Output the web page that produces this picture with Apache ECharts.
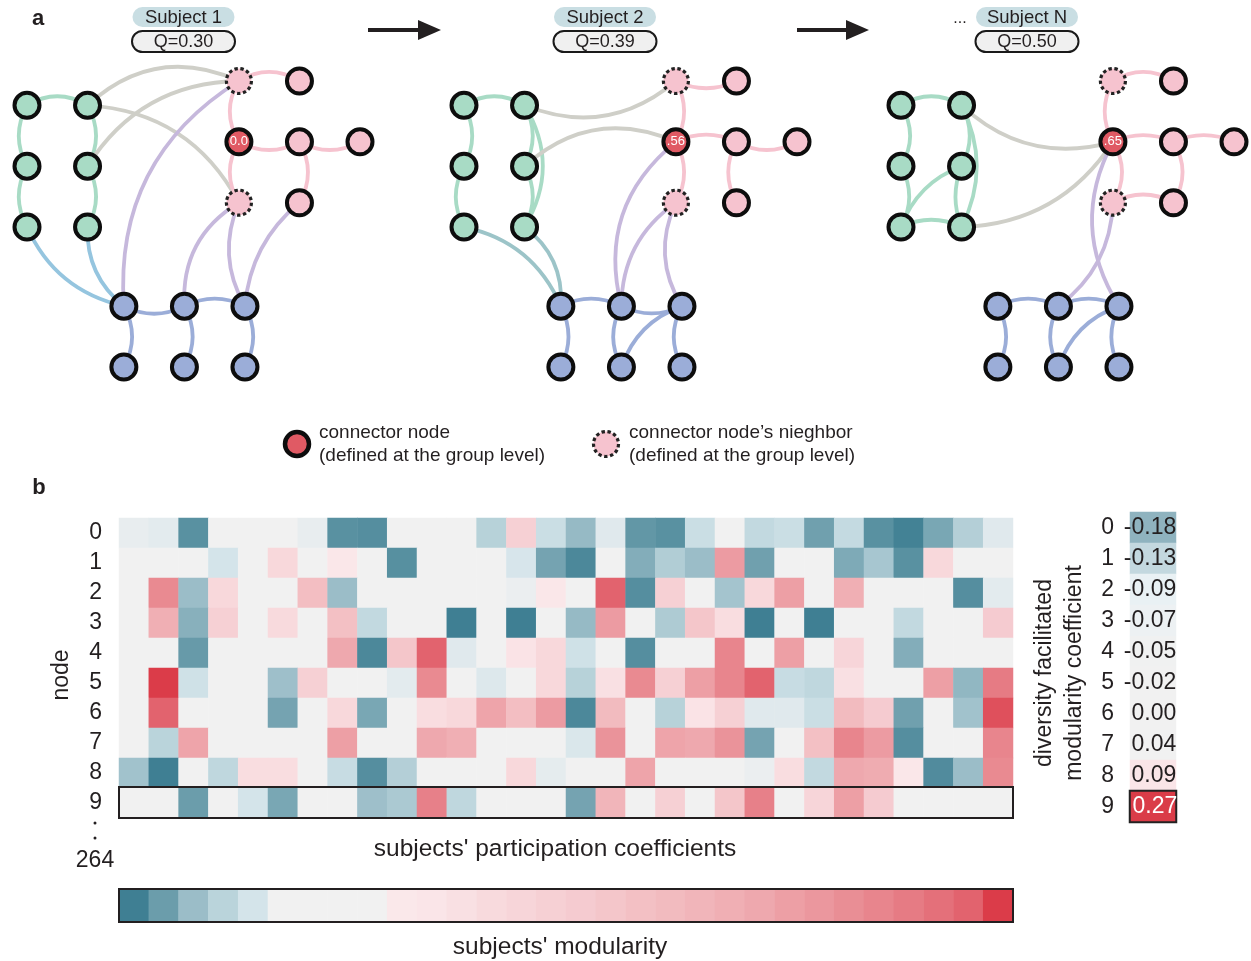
<!DOCTYPE html>
<html><head><meta charset="utf-8">
<script src="https://cdn.jsdelivr.net/npm/echarts@6/dist/echarts.min.js"></script>
<style>html,body{margin:0;padding:0;background:#fff}#c{width:1251px;height:961px}</style>
</head><body><div id="c"></div>
<script>
// ================= DATA =================
const subjects = ['Subject 1', 'Subject 2', 'Subject N'];
const modularityQ = [0.30, 0.39, 0.50];
const connectorLabels = ['0.0', '.56', '.65'];

const nodeIds = ['g0','g1','g2','g3','g4','g5','p0','p1','p2','p3','p4','p5','p6','b0','b1','b2','b3','b4','b5'];
const nodeCommunity = ['green','green','green','green','green','green',
  'pink','pink','pink','pink','pink','pink','pink',
  'blue','blue','blue','blue','blue','blue'];
const connectorNode = 'p2';
const neighborNodes = ['p0', 'p5'];

// edges per subject
const edgesS1 = [['g0','g1'],['g0','g2'],['g2','g4'],['g1','g3'],['g3','g5'],
  ['g1','p0'],['g3','p0'],['g1','p5'],
  ['g4','b0'],['g5','b0'],
  ['b0','p0'],['b1','p5'],['b2','p5'],['b2','p6'],
  ['p0','p1'],['p0','p2'],['p2','p5'],['p2','p3'],['p3','p4'],['p3','p6'],
  ['b0','b1'],['b1','b2'],['b0','b3'],['b1','b4'],['b2','b5']];
const edgesS2 = [['g0','g1'],['g0','g2'],['g2','g4'],['g1','g3'],['g3','g5'],['g1','g5'],
  ['g1','p0'],['g3','p2'],
  ['g4','b0'],['g5','b0'],
  ['b1','p2'],['b1','p5'],['b2','p5'],
  ['p0','p1'],['p0','p2'],['p2','p5'],['p2','p3'],['p3','p4'],['p3','p6'],
  ['b0','b1'],['b1','b2'],['b0','b3'],['b1','b4'],['b2','b5'],['b4','b2']];
const edgesSN = [['g0','g1'],['g0','g2'],['g2','g4'],['g1','g3'],['g3','g5'],['g1','g5'],['g4','g5'],['g4','g3'],
  ['g1','p2'],['g5','p2'],
  ['p2','b2'],['p5','b1'],
  ['p0','p1'],['p0','p2'],['p2','p3'],['p3','p4'],['p2','p5'],['p5','p6'],['p3','p6'],
  ['b0','b1'],['b1','b2'],['b0','b3'],['b1','b4'],['b2','b5'],['b4','b2']];

// heatmap: subjects' participation coefficients (colour level 0..29 on the modularity scale)
const nodeLabels = ['0','1','2','3','4','5','6','7','8','9'];
const pcRow0 = [4.7,4.5,0.6,6.5,6.5,6.5,4.7,0.6,0.5,6.5,6.5,6.5,2.9,14,3.6,1.9,4.4,0.8,0.6,3.6,6.5,3.3,3.6,1.1,3.4,0.6,0.1,1.3,2.8,4.4];
const pcRow1 = [6.5,6.5,6.5,4.0,6.5,12.5,6.5,9.3,6.5,0.55,6.5,6.5,6.5,4.1,1.2,0.3,6.5,1.5,2.7,2.0,22.5,1.1,6.5,6.5,1.4,2.4,0.6,12.5,6.5,6.5];
const pcRow2 = [6.5,24.5,2.0,12.5,6.5,6.5,17.5,2.0,6.5,6.5,6.5,6.5,6.5,4.8,9.3,6.5,28,0.5,14,6.5,2.3,12.5,22,6.5,20,6.5,6.5,6.5,0.5,4.5];
const pcRow3 = [6.5,20,1.6,14,6.5,12,6.5,17,3.3,6.5,6.5,0,6.5,0,6.5,1.9,22.5,6.5,2.6,16,11.5,0,6.5,0,6.5,6.5,3.3,6.5,6.5,15];
const pcRow4 = [6.5,6.5,0.9,6.5,6.5,6.5,6.5,21,0.3,16,28,4.4,6.5,10.5,12.5,3.8,6.5,0.5,6.5,6.5,25,6.5,22,6.5,13,6.5,1.5,6.5,6.5,6.5];
const pcRow5 = [6.5,29,3.8,6.5,6.5,2.1,14,6.5,6.5,4.5,24.5,6.5,4.3,6.5,12.5,2.9,11,24.5,14,22,25,28,3.5,3.2,11,6.5,6.5,22,1.8,26];
const pcRow6 = [6.5,28,6.5,6.5,6.5,1.2,6.5,12.5,1.3,6.5,11.5,12.5,21.5,17.5,22.5,0.3,18,6.5,2.9,10.5,14,4.4,4.4,3.6,18,15,1.1,6.5,2.2,28.5];
const pcRow7 = [6.5,3.0,21.5,6.5,6.5,6.5,6.5,22,6.5,6.5,21,20,6.5,6.5,6.5,4.2,23.5,6.5,21.5,21,23.5,1.2,6.5,17,25,22.5,0.5,6.5,6.5,25];
const pcRow8 = [2.2,0,6.5,3.2,11.5,11.5,6.5,3.5,0.5,2.8,6.5,6.5,6.5,12.5,4.6,6.5,6.5,21.5,6.5,6.5,6.5,4.8,11.5,3.3,21,20.5,9.3,0.4,2.0,24.5];
const pcRow9 = [6.5,6.5,1.0,6.5,4.0,1.3,6.5,6.5,2.1,2.5,25.5,3.2,6.5,6.5,6.5,1.2,19,6.5,14,6.5,16,25.5,6.5,13,22,15,6.5,6.5,6.5,6.5];
const pcRows = [pcRow0,pcRow1,pcRow2,pcRow3,pcRow4,pcRow5,pcRow6,pcRow7,pcRow8,pcRow9];

// diversity facilitated modularity coefficient per node
const dfmc = [-0.18,-0.13,-0.09,-0.07,-0.05,-0.02,0.00,0.04,0.09,0.27];
// modularity colour bar levels
const modularityLevels = [0,1,2,3,4,5,6,7,8,9,10,11,12,13,14,15,16,17,18,19,20,21,22,23,24,25,26,27,28,29];
const highlightedNode = 9;

// ================= STYLE / LAYOUT =================
const FONT = "'Liberation Sans', Arial, Helvetica, sans-serif";
const TXT = '#231f20';
const scaleColors = ['#3f7f93','#6b9dab','#9bbdc8','#bad4db','#d4e4ea','#f1f1f1','#f1f1f1','#f1f1f1','#f1f1f1',
  '#fae8ea','#fae5e8','#f9e0e3','#f8dadd','#f7d5d9','#f6d0d4','#f5cbd0','#f4c6ca','#f3c0c4','#f2bbbf','#f1b5ba',
  '#f0afb4','#eea8ae','#ed9fa5','#eb979e','#e98e95','#e8858d','#e67b84','#e4707a','#e2636e','#db3c49'];
const sideColors = ['#5e93a2','#78a5b2','#8fb3bf','#bed5dc','#e9f1f4','#f1f1f1','#f1f1f1','#f1f1f1',
  '#fae5e8','#f6cdd2','#f1b5ba','#e98e95','#da3c48'];
const commColor = {green:'#a8dbc5', pink:'#f6c3cf', blue:'#9badd8'};
const connectorColor = '#e05a64';
// node layout in abstract grid units
const nodeX = [0,1,0,1,0,1, 3.5,4.5,3.5,4.5,5.5,3.5,4.5, 1.6,2.6,3.6,1.6,2.6,3.6];
const nodeY = [0.4,0.4,1.4,1.4,2.4,2.4, 0,0,1,1,1,2,2, 3.7,3.7,3.7,4.7,4.7,4.7];
// edge bends (curveness), parallel to edge lists
const bendS1 = [0.3,-0.27,-0.27,0.28,0.28, 0.33,0.27,0.28, -0.25,-0.25, 0.3,0.3,0.25,0.21,
  0.3,-0.3,-0.3,-0.27,-0.27,0.28, -0.25,0.25,0.27,0.27,0.27];
const bendS2 = [0.3,0.27,-0.27,0.27,0.27,0.3, -0.3,0.32, 0.26,0.27, 0.32,0.26,0.27,
  -0.24,0.27,0.27,0.24,-0.27,-0.27, 0.25,-0.24,0.25,-0.27,-0.27,0.24];
const bendSN = [0.3,0.3,0.27,0.27,-0.2,0.25,0.24,0.23, -0.28,-0.26, -0.29,0.24,
  0.3,-0.27,0.22,0.22,0.3,0.27,0.3, 0.25,0.25,0.27,-0.27,-0.25,0.24];
const subjEdges = [edgesS1, edgesS2, edgesSN];
const subjBends = [bendS1, bendS2, bendSN];
const netLeft = [27, 464, 901];
const pillCx = [183.5, 605, 1027];

function edgeColor(a, b, s) {
  const ca = nodeCommunity[nodeIds.indexOf(a)], cb = nodeCommunity[nodeIds.indexOf(b)];
  const k = [ca, cb].sort().join('-');
  if (ca === cb) return commColor[ca];
  if (k === 'green-pink') return '#cfcfc8';
  if (k === 'blue-pink') return '#c6b8dc';
  return s === 0 ? '#95c5df' : '#9cc4c8';
}

const grids = [], xAxes = [], yAxes = [], series = [];
for (let s = 0; s < 3; s++) {
  grids.push({left: netLeft[s], top: 81, width: 333, height: 286});
  xAxes.push({gridIndex: s, type: 'value', min: 0, max: 5.5, show: false});
  yAxes.push({gridIndex: s, type: 'value', min: 0, max: 4.7, inverse: true, show: false});
  const nodes = nodeIds.map((id, i) => {
    const item = {name: id, value: [nodeX[i], nodeY[i]],
      itemStyle: {color: commColor[nodeCommunity[i]], borderColor: '#0d0d0d', borderWidth: 4}};
    if (id === connectorNode) {
      item.itemStyle.color = connectorColor;
      item.label = {show: true, formatter: connectorLabels[s], color: '#fff', fontSize: 13, fontFamily: FONT, position: 'inside'};
    }
    if (neighborNodes.includes(id)) {
      item.itemStyle.borderType = [3.4, 2.6];
      item.itemStyle.borderWidth = 3.2;
      item.itemStyle.borderColor = '#222';
    }
    return item;
  });
  const links = subjEdges[s].map((e, j) => ({
    source: nodeIds.indexOf(e[0]), target: nodeIds.indexOf(e[1]),
    lineStyle: {color: edgeColor(e[0], e[1], s), width: 3.8, opacity: 1, curveness: subjBends[s][j]}
  }));
  series.push({type: 'graph', coordinateSystem: 'cartesian2d', xAxisIndex: s, yAxisIndex: s,
    symbol: 'circle', symbolSize: 25, data: nodes, links: links, silent: true,
    label: {show: false}, emphasis: {disabled: true}, z: 3});
}

// main heatmap (grid 3)
grids.push({left: 119, top: 518, width: 894, height: 300});
xAxes.push({gridIndex: 3, type: 'category', data: modularityLevels.map(String), show: false});
yAxes.push({gridIndex: 3, type: 'category', data: nodeLabels, inverse: true,
  axisLine: {show: false}, axisTick: {show: false},
  axisLabel: {fontSize: 23, color: TXT, fontFamily: FONT, margin: 17}});
const hmData = [];
pcRows.forEach((row, r) => row.forEach((v, c) => hmData.push([c, r, v])));
series.push({type: 'heatmap', xAxisIndex: 3, yAxisIndex: 3, data: hmData,
  itemStyle: {borderWidth: 0}, emphasis: {disabled: true}, silent: true});

// side column (grid 4)
grids.push({left: 1130, top: 512, width: 46, height: 310});
xAxes.push({gridIndex: 4, type: 'category', data: [''], show: false});
yAxes.push({gridIndex: 4, type: 'category', data: nodeLabels, inverse: true,
  axisLine: {show: false}, axisTick: {show: false},
  axisLabel: {fontSize: 23, color: TXT, fontFamily: FONT, margin: 16}});
const sideData = dfmc.map((v, r) => {
  const it = {value: [0, r, v]};
  if (r === highlightedNode) {
    it.itemStyle = {borderColor: '#222', borderWidth: 2};
    it.label = {color: '#fff'};
  }
  return it;
});
series.push({type: 'heatmap', xAxisIndex: 4, yAxisIndex: 4, data: sideData,
  label: {show: true, position: 'insideRight', distance: 0, fontSize: 23, fontFamily: FONT, color: TXT,
    formatter: p => p.value[2].toFixed(2)},
  emphasis: {disabled: true}, silent: true, z: 3});

// colour bar (grid 5)
grids.push({left: 119, top: 889, width: 894, height: 33});
xAxes.push({gridIndex: 5, type: 'category', data: modularityLevels.map(String), show: false});
yAxes.push({gridIndex: 5, type: 'category', data: [''], show: false});
series.push({type: 'heatmap', xAxisIndex: 5, yAxisIndex: 5,
  data: modularityLevels.map((v, i) => [i, 0, v]), itemStyle: {borderWidth: 0},
  emphasis: {disabled: true}, silent: true});

// ================= GRAPHICS (text, pills, arrows, legend) =================
const g = [];
function txt(x, y, text, size, opts) {
  return Object.assign({type: 'text', x: x, y: y, z: 50,
    style: Object.assign({text: text, fontSize: size, fontFamily: FONT, fill: TXT,
      align: 'center', verticalAlign: 'middle'}, (opts && opts.style) || {})}, (opts && opts.el) || {});
}
g.push(txt(38, 19, 'a', 22, {style: {fontWeight: 'bold'}}));
g.push(txt(39, 488, 'b', 22, {style: {fontWeight: 'bold'}}));
for (let s = 0; s < 3; s++) {
  const cx = pillCx[s];
  g.push({type: 'rect', z: 40, shape: {x: cx - 51, y: 7, width: 102, height: 20, r: 10}, style: {fill: '#c9dee3'}});
  g.push(txt(cx, 17.5, subjects[s], 18.5));
  g.push({type: 'rect', z: 40, shape: {x: cx - 51.5, y: 31, width: 103, height: 21, r: 10.5},
    style: {fill: '#f0f0f0', stroke: '#1a1a1a', lineWidth: 2}});
  g.push(txt(cx, 42, 'Q=' + modularityQ[s].toFixed(2), 18));
}
g.push(txt(960, 19, '...', 16));
[[368, 441], [797, 869]].forEach(a => {
  g.push({type: 'line', z: 40, shape: {x1: a[0], y1: 30, x2: a[1] - 16, y2: 30}, style: {stroke: '#231f20', lineWidth: 4}});
  g.push({type: 'polygon', z: 40, shape: {points: [[a[1] - 23, 20], [a[1], 30], [a[1] - 23, 40]]}, style: {fill: '#231f20'}});
});
// legend
g.push({type: 'circle', z: 40, shape: {cx: 297, cy: 444, r: 12}, style: {fill: connectorColor, stroke: '#0d0d0d', lineWidth: 4.5}});
g.push(txt(319, 433, 'connector node', 19, {style: {align: 'left'}}));
g.push(txt(319, 456, '(defined at the group level)', 19, {style: {align: 'left'}}));
g.push({type: 'circle', z: 40, shape: {cx: 606, cy: 444, r: 12.5}, style: {fill: commColor.pink, stroke: '#222', lineWidth: 3.2, lineDash: [3.4, 2.6]}});
g.push(txt(629, 433, 'connector node\u2019s nieghbor', 19, {style: {align: 'left'}}));
g.push(txt(629, 456, '(defined at the group level)', 19, {style: {align: 'left'}}));
// panel b annotations
g.push({type: 'rect', z: 45, shape: {x: 119, y: 787, width: 894, height: 31}, style: {fill: 'none', stroke: '#231f20', lineWidth: 2}});
g.push({type: 'rect', z: 45, shape: {x: 119, y: 889, width: 894, height: 33}, style: {fill: 'none', stroke: '#231f20', lineWidth: 2}});
g.push({type: 'circle', z: 40, shape: {cx: 95, cy: 823, r: 1.5}, style: {fill: TXT}});
g.push({type: 'circle', z: 40, shape: {cx: 95, cy: 838, r: 1.5}, style: {fill: TXT}});
g.push(txt(95, 861, '264', 23));
g.push(txt(62, 675, 'node', 23, {el: {rotation: Math.PI / 2}}));
g.push(txt(555, 849, "subjects' participation coefficients", 24.5));
g.push(txt(560, 947, "subjects' modularity", 24.5));
g.push(txt(1060, 673, 'diversity facilitated\nmodularity coefficient', 23, {el: {rotation: Math.PI / 2}, style: {lineHeight: 30}}));

const chart = echarts.init(document.getElementById('c'));
chart.setOption({
  animation: false,
  backgroundColor: '#fff',
  textStyle: {fontFamily: FONT},
  grid: grids, xAxis: xAxes, yAxis: yAxes,
  visualMap: [
    {type: 'continuous', show: false, seriesIndex: [3, 5], min: 0, max: 29, inRange: {color: scaleColors}},
    {type: 'continuous', show: false, seriesIndex: [4], min: -0.27, max: 0.27, inRange: {color: sideColors}}
  ],
  series: series,
  graphic: g
});
</script></body></html>
